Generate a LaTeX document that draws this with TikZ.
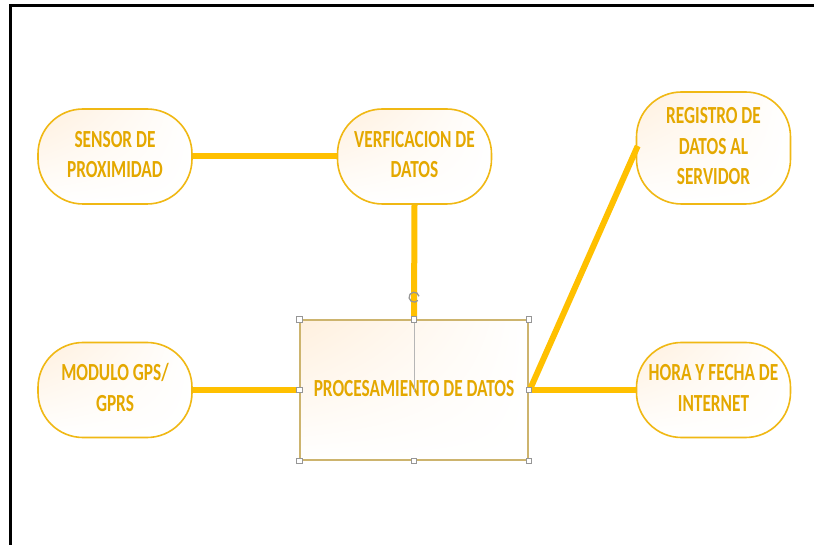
\documentclass[tikz,border=0pt]{standalone}
\usepackage{fontspec}
\setmainfont{Carlito}
\usetikzlibrary{calc,shadings}
\definecolor{gold}{RGB}{228,168,0}
\definecolor{edgecol}{RGB}{240,184,20}
\definecolor{conn}{RGB}{255,192,0}
\definecolor{cream}{RGB}{255,240,222}
\definecolor{handlecol}{RGB}{150,150,150}
\definecolor{rectcol}{RGB}{205,180,110}
\newcommand{\lbl}[1]{\scalebox{1}[1.42]{\begin{tabular}{@{}c@{}}#1\end{tabular}}}
\tikzset{
  pill/.style={draw=edgecol, line width=1.6pt, rounded corners=45pt,
    minimum width=154pt, minimum height=95pt, inner sep=0pt,
    upper left=cream, upper right=white, lower left=white, lower right=white,
    text=gold, font=\bfseries\fontsize{17.3}{21.5}\selectfont},
  procbox/.style={draw=rectcol, line width=1.4pt,
    minimum width=228pt, minimum height=140pt, inner sep=0pt,
    upper left=cream, upper right=white, lower left=white, lower right=white,
    text=gold, font=\bfseries\fontsize{17.3}{21.5}\selectfont},
  link/.style={draw=conn, line width=6pt},
  handlebox/.style={draw=handlecol, fill=white, line width=0.6pt,
    minimum size=5.5pt, inner sep=0pt}
}
\begin{document}
\begin{tikzpicture}[x=1pt,y=-1pt]
\useasboundingbox (0,0) rectangle (814,545);
\fill[white] (0,0) rectangle (814,545);
% frame
\draw[black, line width=3pt] (10,545) -- (10,6) -- (814,6);
% nodes
\node[pill] (sensor) at (115,156.5) {\lbl{SENSOR DE\\PROXIMIDAD}};
\node[pill] (verif) at (414.5,156.5) {\lbl{VERFICACION DE\\DATOS}};
\node[pill, minimum height=112pt] (reg) at (713.5,148) {\lbl{REGISTRO DE\\DATOS AL\\SERVIDOR}};
\node[pill] (gps) at (115,390) {\lbl{MODULO GPS/\\GPRS}};
\node[pill] (hora) at (713.5,390) {\lbl{HORA Y FECHA DE\\INTERNET}};
\node[procbox] (proc) at (414,390) {};
% connectors
\draw[link] (sensor.east) -- (verif.west);
\draw[link] (verif.south) -- (proc.north);
\draw[link] (gps.east) -- (proc.west);
\draw[link] (proc.east) -- (hora.west);
\draw[link] ($(proc.east)+(1,0)$) -- ($(reg.west)+(2,-2)$);
% text of processing box
\node[text=gold, font=\bfseries\fontsize{17.3}{21.5}\selectfont] (proctext) at (414,390) {\lbl{PROCESAMIENTO DE DATOS}};
% selection artefacts
\draw[handlecol!70, line width=0.6pt] (proc.north) -- ($(proc.center)+(0,2)$);
\draw[handlecol, line width=1.3pt] ($(proc.north)+(5,-23)$) arc[start angle=10, end angle=320, radius=5pt];
\foreach \a in {north west,north,north east,west,east,south west,south,south east}
  \node[handlebox] at (proc.\a) {};
\end{tikzpicture}
\end{document}
